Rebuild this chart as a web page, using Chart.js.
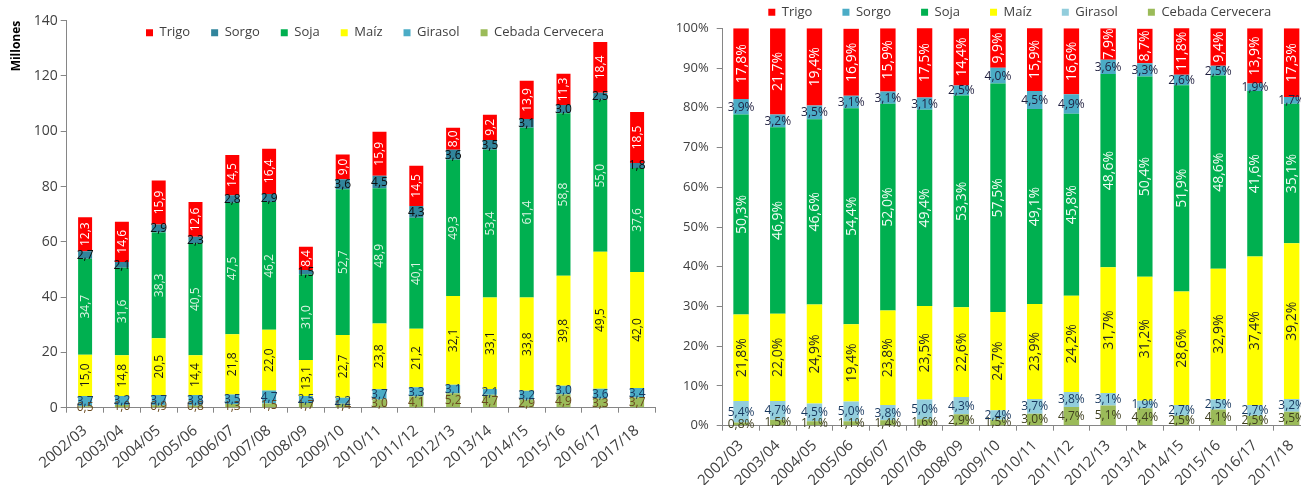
<!DOCTYPE html>
<html><head><meta charset="utf-8">
<script src="https://cdn.jsdelivr.net/npm/chart.js@4.4.1/dist/chart.umd.min.js"></script>
<style>
html,body{margin:0;padding:0;background:#fff;overflow:hidden;width:1301px;height:485px;position:relative;}
#c1{position:absolute;left:0;top:0;}
#c2{position:absolute;left:660px;top:0;}
</style></head><body>
<canvas id="c1" width="660" height="485"></canvas>
<canvas id="c2" width="660" height="485"></canvas>
<script>
// ---------- data ----------
const categories = ['2002/03','2003/04','2004/05','2005/06','2006/07','2007/08','2008/09','2009/10','2010/11','2011/12','2012/13','2013/14','2014/15','2015/16','2016/17','2017/18'];

// Millones de toneladas
const cebadaMill  = [0.5, 1.0, 0.9, 0.8, 1.3, 1.5, 1.7, 1.4, 3.0, 4.1, 5.2, 4.7, 2.9, 4.9, 3.3, 3.7];
const girasolMill = [3.7, 3.2, 3.7, 3.8, 3.5, 4.7, 2.5, 2.2, 3.7, 3.3, 3.1, 2.1, 3.2, 3.0, 3.6, 3.4];
const maizMill    = [15.0, 14.8, 20.5, 14.4, 21.8, 22.0, 13.1, 22.7, 23.8, 21.2, 32.1, 33.1, 33.8, 39.8, 49.5, 42.0];
const sojaMill    = [34.7, 31.6, 38.3, 40.5, 47.5, 46.2, 31.0, 52.7, 48.9, 40.1, 49.3, 53.4, 61.4, 58.8, 55.0, 37.6];
const sorgoMill   = [2.7, 2.1, 2.9, 2.3, 2.8, 2.9, 1.5, 3.6, 4.5, 4.3, 3.6, 3.5, 3.1, 3.0, 2.5, 1.8];
const trigoMill   = [12.3, 14.6, 15.9, 12.6, 14.5, 16.4, 8.4, 9.0, 15.9, 14.5, 8.0, 9.2, 13.9, 11.3, 18.4, 18.5];

// Participación (%)
const cebadaPct  = [0.8, 1.5, 1.1, 1.1, 1.4, 1.6, 2.9, 1.5, 3.0, 4.7, 5.1, 4.4, 2.5, 4.1, 2.5, 3.5];
const girasolPct = [5.4, 4.7, 4.5, 5.0, 3.8, 5.0, 4.3, 2.4, 3.7, 3.8, 3.1, 1.9, 2.7, 2.5, 2.7, 3.2];
const maizPct    = [21.8, 22.0, 24.9, 19.4, 23.8, 23.5, 22.6, 24.7, 23.9, 24.2, 31.7, 31.2, 28.6, 32.9, 37.4, 39.2];
const sojaPct    = [50.3, 46.9, 46.6, 54.4, 52.0, 49.4, 53.3, 57.5, 49.1, 45.8, 48.6, 50.4, 51.9, 48.6, 41.6, 35.1];
const sorgoPct   = [3.9, 3.2, 3.5, 3.1, 3.1, 3.1, 2.5, 4.0, 4.5, 4.9, 3.6, 3.3, 2.6, 2.5, 1.9, 1.7];
const trigoPct   = [17.8, 21.7, 19.4, 16.9, 15.9, 17.5, 14.4, 9.9, 15.9, 16.6, 7.9, 8.7, 11.8, 9.4, 13.9, 17.3];

const seriesNames = ['Cebada Cervecera','Girasol','Maíz','Soja','Sorgo','Trigo'];
const leftTicks = [0,20,40,60,80,100,120,140];
const rightTicks = [0,10,20,30,40,50,60,70,80,90,100];

// ---------- styling ----------
const FONT = "'Open Sans', 'Liberation Sans', sans-serif";
const fmt = v => v.toFixed(1).replace('.', ',');

const valueLabels = {
  id: 'valueLabels',
  afterDatasetsDraw(chart, args, opts) {
    const ctx = chart.ctx;
    chart.data.datasets.forEach((ds, di) => {
      const meta = chart.getDatasetMeta(di);
      const st = ds.labelStyle;
      if (!st) return;
      meta.data.forEach((bar, i) => {
        const text = fmt(ds.data[i]) + (opts.suffix || '');
        const cy = (bar.y + bar.base) / 2;
        ctx.save();
        ctx.font = st.font;
        ctx.fillStyle = st.color;
        ctx.textAlign = 'center';
        ctx.textBaseline = 'middle';
        ctx.translate(bar.x, cy);
        if (st.rotate) ctx.rotate(-Math.PI / 2);
        ctx.fillText(text, 0, 0.5);
        ctx.restore();
      });
    });
  }
};

const legendPlacer = {
  id: 'legendPlacer',
  afterLayout(chart, args, opts) {
    const lg = chart.legend;
    if (!lg) return;
    const pad = lg.options.labels.padding;
    const fs = lg.options.labels.font.size;
    lg.left = opts.x - pad;
    lg.right = opts.x + 3000;
    lg.width = lg.right - lg.left;
    lg.top = opts.y - pad - fs / 2;
    lg.bottom = lg.top + fs + 2 * pad;
    lg.height = lg.bottom - lg.top;
  }
};

function buildDatasets(arrs, colors, labelStyles) {
  return arrs.map((a, i) => ({
    label: seriesNames[i],
    data: a,
    backgroundColor: colors[i],
    borderWidth: 0,
    labelStyle: labelStyles[i]
  }));
}

function axisCommon(extra) {
  return Object.assign({
    stacked: true,
    border: { color: '#868686', width: 1 },
  }, extra);
}

// ---------- left chart ----------
const leftColors = ['#9BBB59', '#4BACC6', '#FFFF00', '#00B050', '#31859C', '#FF0000'];
const lf = '12px ' + FONT;
const leftLabelStyles = [
  { font: lf, color: '#6B4A1F', rotate: false },
  { font: lf, color: '#17375E', rotate: false },
  { font: lf, color: '#1A1A1A', rotate: true },
  { font: lf, color: '#DDF3E3', rotate: true },
  { font: lf, color: '#0D0D0D', rotate: false },
  { font: lf, color: '#FFFFFF', rotate: true }
];
const legendFont = { family: FONT, size: 13 };
// legend height (single row) = itemHeight + padding + 10
const LPAD = 21;
const legendH1 = 13 + LPAD + 10;

new Chart(document.getElementById('c1'), {
  type: 'bar',
  data: {
    labels: categories,
    datasets: buildDatasets([cebadaMill, girasolMill, maizMill, sojaMill, sorgoMill, trigoMill], leftColors, leftLabelStyles)
  },
  options: {
    responsive: false,
    animation: false,
    barPercentage: 0.38,
    categoryPercentage: 1.0,
    layout: { padding: { top: 20.7 - legendH1, right: 4.5, left: 0, bottom: 0 } },
    plugins: {
      tooltip: { enabled: false },
      legend: {
        position: 'top', align: 'start', reverse: true,
        labels: { boxWidth: 7, boxHeight: 7, padding: LPAD, font: legendFont, color: '#404040' }
      },
      legendPlacer: { x: 146, y: 32.7 },
      valueLabels: { suffix: '' }
    },
    scales: {
      x: axisCommon({
        grid: { display: true, drawOnChartArea: false, drawTicks: true, tickLength: 5, color: '#868686', offset: true },
        ticks: { color: '#404040', font: { family: FONT, size: 15 }, minRotation: 40, maxRotation: 40, autoSkip: false, padding: 9 },
        afterFit(s) { s.height = 485 - 407.7; }
      }),
      y: axisCommon({
        min: 0, max: 140,
        afterBuildTicks(s) { s.ticks = leftTicks.map(v => ({ value: v })); },
        ticks: { color: '#404040', font: { family: FONT, size: 14 }, padding: 3 },
        grid: { display: true, drawOnChartArea: false, drawTicks: true, tickLength: 6, color: '#868686' },
        title: { display: true, text: 'Millones', align: 'end', color: '#000', font: { family: FONT, size: 12, weight: 'bold' }, padding: { top: 9, bottom: 0 } },
        afterFit(s) { s.width = 66.7; }
      })
    }
  },
  plugins: [legendPlacer, valueLabels]
});

// ---------- right chart ----------
const rightColors = ['#9BBB59', '#92CDDC', '#FFFF00', '#00B050', '#4BACC6', '#FF0000'];
const rf = '14px ' + FONT;
const rs = '12px ' + FONT;
const rightLabelStyles = [
  { font: rs, color: '#3F3F1F', rotate: false },
  { font: rs, color: '#17375E', rotate: false },
  { font: rf, color: '#262626', rotate: true },
  { font: rf, color: '#F2FBF5', rotate: true },
  { font: rs, color: '#1F1F3F', rotate: false },
  { font: rf, color: '#FFFFFF', rotate: true }
];
const RPAD = 30;
const legendH2 = 13 + RPAD + 10;

new Chart(document.getElementById('c2'), {
  type: 'bar',
  data: {
    labels: categories,
    datasets: buildDatasets([cebadaPct, girasolPct, maizPct, sojaPct, sorgoPct, trigoPct], rightColors, rightLabelStyles)
  },
  options: {
    responsive: false,
    animation: false,
    barPercentage: 0.42,
    categoryPercentage: 1.0,
    layout: { padding: { top: 28.3 - legendH2, right: 10, left: 0, bottom: 0 } },
    plugins: {
      tooltip: { enabled: false },
      legend: {
        position: 'top', align: 'start', reverse: true,
        labels: { boxWidth: 7, boxHeight: 7, padding: RPAD, font: legendFont, color: '#404040' }
      },
      legendPlacer: { x: 768.3 - 660, y: 12.3 },
      valueLabels: { suffix: '%' }
    },
    scales: {
      x: axisCommon({
        grid: { display: true, drawOnChartArea: false, drawTicks: true, tickLength: 5, color: '#868686', offset: true },
        ticks: { color: '#404040', font: { family: FONT, size: 15 }, minRotation: 45, maxRotation: 45, autoSkip: false, padding: 6 },
        afterFit(s) { s.height = 485 - 425.7; }
      }),
      y: axisCommon({
        min: 0, max: 100,
        afterBuildTicks(s) { s.ticks = rightTicks.map(v => ({ value: v })); },
        ticks: { color: '#404040', font: { family: FONT, size: 13 }, padding: 8, callback: v => v + '%' },
        grid: { display: true, drawOnChartArea: false, drawTicks: true, tickLength: 6, color: '#868686' },
        afterFit(s) { s.width = 62.7; }
      })
    }
  },
  plugins: [legendPlacer, valueLabels]
});
</script>
</body></html>
